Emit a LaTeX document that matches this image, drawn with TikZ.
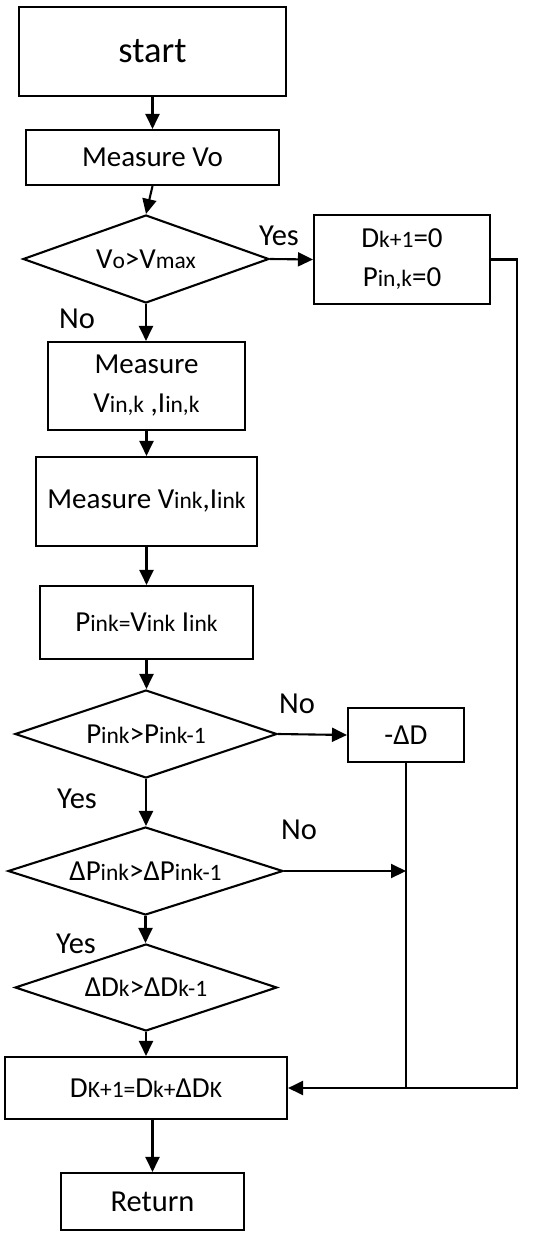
\documentclass[tikz,border=0pt]{standalone}
\usepackage{fontspec}
\setmainfont{Carlito}
\usetikzlibrary{shapes.geometric,arrows.meta}
\newcommand\subt[1]{{\fontsize{23.5}{26}\selectfont #1}}
\tikzset{
  box/.style={draw, line width=2.1pt, fill=white, inner sep=0pt, align=center,
    font=\fontsize{29}{39}\selectfont},
  dia/.style={draw, diamond, line width=2.1pt, fill=white, inner sep=0pt, aspect=2.9,
    font=\fontsize{29}{34}\selectfont},
  lbl/.style={fill=white, inner sep=1pt, font=\fontsize{30.5}{34}\selectfont},
  arr/.style={line width=2.1pt, -{Triangle[length=15pt,width=14pt]}},
  ln/.style={line width=2.1pt}
}
\begin{document}
\begin{tikzpicture}[x=1pt,y=-1pt]
\useasboundingbox (0,0) rectangle (533,1236);
\node[box, minimum width=267, minimum height=89, font=\fontsize{36.5}{40}\selectfont] (start) at (152.5,51.5) {start};
\node[box, minimum width=253, minimum height=55] (mvo) at (152.5,157.5) {Measure Vo};
\node[dia, minimum width=246, minimum height=88] (d1) at (146,259) {V\subt{o}>V\subt{max}};
\node[box, minimum width=176, minimum height=89] (zero) at (402,259.5) {D\subt{k+1}=0\\P\subt{in,k}=0};
\node[box, minimum width=197, minimum height=88] (m1) at (146.5,386) {Measure\\V\subt{in,k} ,I\subt{in,k}};
\node[box, minimum width=221, minimum height=89] (m2) at (146.5,501.5) {Measure V\subt{ink},I\subt{ink}};
\node[box, minimum width=213, minimum height=73] (pk) at (146.5,622.5) {P\subt{ink=}V\subt{ink} I\subt{ink}};
\node[dia, minimum width=262, minimum height=88] (d2) at (146,734) {P\subt{ink}>P\subt{ink-1}};
\node[box, minimum width=116, minimum height=54] (dd) at (406,735) {-ΔD};
\node[dia, minimum width=275, minimum height=88] (d3) at (145.5,871) {ΔP\subt{ink}>ΔP\subt{ink-1}};
\node[dia, minimum width=262, minimum height=87] (d4) at (146,987.5) {ΔD\subt{k}>ΔD\subt{k-1}};
\node[box, minimum width=282, minimum height=62] (upd) at (146,1088) {D\subt{K+1=}D\subt{k+}ΔD\subt{K}};
\node[box, minimum width=183, minimum height=57, font=\fontsize{30.5}{34}\selectfont] (ret) at (152.5,1201.5) {Return};
\coordinate (c2) at (517,1088);
% labels
\node[lbl] (y1) at (279,236) {Yes};
\node[lbl] (n1) at (77,319) {No};
\node[lbl] (n2) at (297,704) {No};
\node[lbl] (y2) at (77,799) {Yes};
\node[lbl] (n3) at (299,830) {No};
\node[lbl] (y3) at (76,944) {Yes};
% connectors
\draw[arr] (start.south) -- (mvo.north);
\draw[arr] (mvo.south) -- (d1.north);
\draw[arr] (d1.east) -- (zero.west);
\draw[arr] (d1.south) -- (d1.south |- m1.north);
\draw[arr] (m1.south) -- (m1.south |- m2.north);
\draw[arr] (m2.south) -- (m2.south |- pk.north);
\draw[arr] (pk.south) -- (pk.south |- d2.north);
\draw[arr] (d2.east) -- (dd.west);
\draw[arr] (d2.south) -- (d3.north -| d2.south);
\draw[arr] (d3.east) -- (d3.east -| dd.south);
\draw[arr] (d3.south) -- (d4.north -| d3.south);
\draw[arr] (d4.south) -- (upd.north -| d4.south);
\draw[ln] (dd.south) -- (dd.south |- upd.east);
\draw[arr] (zero.east) -- (zero.east -| c2) -- (c2) -- (upd.east);
\draw[arr] (ret.north |- upd.south) -- (ret.north);
\end{tikzpicture}
\end{document}
